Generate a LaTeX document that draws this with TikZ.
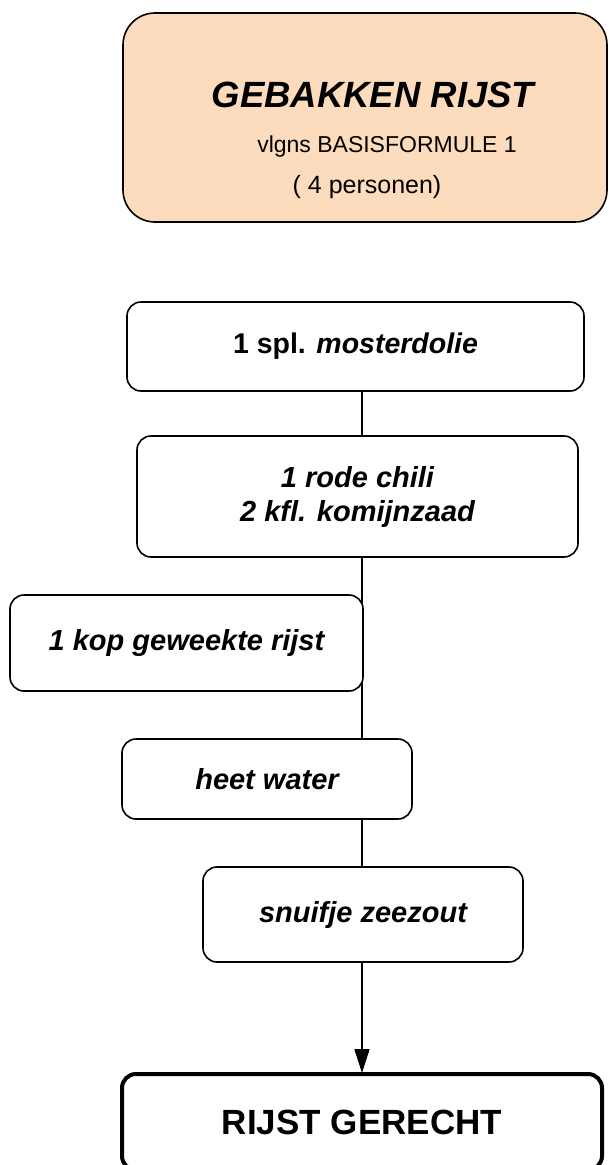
\documentclass[tikz,border=0pt]{standalone}
\usepackage{fontspec}
\setmainfont{Liberation Sans}
\usepackage{xcolor}
\usepackage{tikz}
\usetikzlibrary{arrows.meta,backgrounds}

\definecolor{peach}{RGB}{252,220,188}

\begin{document}
\begin{tikzpicture}[x=1pt, y=-1pt, line width=1.6pt,
    every node/.style={inner sep=0pt, font=\bfseries\itshape\fontsize{29}{34}\selectfont},
    item/.style={rectangle, rounded corners=14pt, draw=black, fill=white, align=center},
    link/.style={draw=black, line width=1.6pt}]
    \useasboundingbox (0,0) rectangle (608,1165);

    \node (titel) [item, rounded corners=32pt, fill=peach, minimum width=484pt, minimum height=209pt] at (365,117.5) {};
    \node (naam) [anchor=base, font=\bfseries\itshape\fontsize{36.5}{40}\selectfont] at (373,107) {GEBAKKEN RIJST};
    \node (formule) [anchor=base, font=\fontsize{23}{27}\selectfont] at (387,152) {vlgns BASISFORMULE 1};
    \node (personen) [anchor=base, font=\fontsize{25}{29}\selectfont] at (367,193) {( 4 personen)};

    \node (mosterd) [item, font=\bfseries\fontsize{28.5}{34}\selectfont, minimum width=457pt, minimum height=89pt] at (355.5,346.5) {1 spl. \textit{mosterdolie}};
    \node (chili) [item, minimum width=441pt, minimum height=121pt] at (357.5,496.5) {1 rode chili\\2 kfl. komijnzaad};
    \node (rijst) [item, minimum width=353pt, minimum height=96pt] at (186.5,643) {1 kop geweekte rijst};
    \node (water) [item, minimum width=290pt, minimum height=80pt] at (267,779) {heet water};
    \node (zout) [item, minimum width=320pt, minimum height=95pt] at (363,914.5) {snuifje zeezout};
    \node (gerecht) [item, line width=4pt, font=\bfseries\fontsize{35}{40}\selectfont, minimum width=480pt, minimum height=96pt] at (362,1122) {RIJST GERECHT};

    \begin{scope}[on background layer]
        \draw[link] (mosterd.south -| gerecht.north) -- (chili.north -| gerecht.north);
        \draw[link, -{Triangle[length=24pt, width=15pt]}] (chili.south -| gerecht.north) -- ([yshift=-1pt]gerecht.north);
    \end{scope}
\end{tikzpicture}
\end{document}
